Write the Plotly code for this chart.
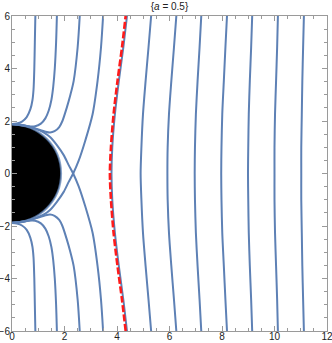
import plotly.graph_objects as go

# ---------------- data (upper half, y >= 0) ----------------
HORIZON_R = 1.87          # radius of the black half-disk
TITLE = "{<i>a</i> = 0.5}"
X_TICKS = [0, 2, 4, 6, 8, 10, 12]
Y_TICKS = [-6, -4, -2, 0, 2, 4, 6]

# curves that end on the pole of the disk
a_x = [0.89, 0.87, 0.85, 0.82, 0.78, 0.70, 0.56, 0.38, 0.18, 0.0]
a_y = [6.0, 5.0, 4.0, 3.2, 2.8, 2.45, 2.15, 1.98, 1.905, 1.885]
b_x = [1.71, 1.68, 1.63, 1.57, 1.50, 1.40, 1.27, 1.10, 0.88, 0.60, 0.30, 0.0]
b_y = [6.0, 5.0, 4.0, 3.3, 2.8, 2.4, 2.1, 1.9, 1.80, 1.80, 1.85, 1.885]
c_x = [2.58, 2.50, 2.35, 2.22, 2.09, 1.92, 1.80, 1.62, 1.45, 1.25, 1.0, 0.7, 0.4, 0.0]
c_y = [6.0, 4.8, 3.53, 2.98, 2.52, 2.0, 1.77, 1.61, 1.56, 1.60, 1.68, 1.77, 1.85, 1.885]

# separatrix: outer branch (to the top) and inner branch (hugging the disk)
d_x = [2.33, 2.54, 2.79, 3.07, 3.26, 3.39, 3.47]
d_y = [0.0, 0.49, 1.25, 2.26, 3.53, 4.8, 6.0]
inner_x = [2.33, 2.16, 1.97, 1.71, 1.46, 1.20, 0.90, 0.50, 0.0]
inner_y = [0.0, 0.32, 0.70, 1.08, 1.38, 1.57, 1.70, 1.82, 1.88]

# curves crossing the whole height, sampled at these heights
open_y = [0.0, 1.0, 2.26, 3.53, 4.8, 6.0]
blue_sep_x = [3.79, 3.82, 3.92, 4.07, 4.24, 4.38]
red_x = [3.73, 3.77, 3.87, 4.02, 4.19, 4.33]
e_x = [4.90, 4.93, 4.99, 5.09, 5.20, 5.30]
f_x = [5.92, 5.93, 5.98, 6.07, 6.17, 6.26]
g_x = [6.96, 6.97, 7.005, 7.07, 7.145, 7.21]
h_x = [7.97, 7.98, 8.01, 8.07, 8.13, 8.19]
i_x = [8.99, 9.00, 9.02, 9.06, 9.11, 9.15]
j_x = [10.0, 10.0, 10.02, 10.06, 10.10, 10.13]
k_x = [11.02, 11.02, 11.04, 11.06, 11.09, 11.12]

BLUE = "#5E81B5"
RED = "#FF1A1A"

fig = go.Figure()


def add(xs, ys, color=BLUE, width=2.0, dash=None):
    fig.add_trace(go.Scatter(
        x=xs, y=ys, mode="lines",
        line=dict(color=color, width=width, shape="spline", smoothing=0.8, dash=dash),
        hoverinfo="skip", showlegend=False))


def mirror(ys):
    return [-v for v in ys]


# pole-ending curves, upper and lower halves
for xs, ys in [(a_x, a_y), (b_x, b_y), (c_x, c_y)]:
    add(xs, ys)
    add(xs, mirror(ys))

# separatrix: two smooth curves crossing at the X point
add(list(reversed(inner_x)) + d_x[1:], mirror(list(reversed(inner_y))) + d_y[1:])
add(list(reversed(inner_x)) + d_x[1:], list(reversed(inner_y)) + mirror(d_y[1:]))

# full-height curves
for xs in [blue_sep_x, e_x, f_x, g_x, h_x, i_x, j_x, k_x]:
    add(list(reversed(xs)) + xs[1:], mirror(list(reversed(open_y))) + open_y[1:])

# red dashed curve on top
add(list(reversed(red_x)) + red_x[1:], mirror(list(reversed(open_y))) + open_y[1:],
    color=RED, width=2.6, dash="7px,2.5px")

# black half-disk
fig.add_shape(type="circle", xref="x", yref="y",
              x0=-HORIZON_R, x1=HORIZON_R, y0=-HORIZON_R, y1=HORIZON_R,
              fillcolor="black", line=dict(color="rgba(94,129,181,0.75)", width=2),
              layer="below")

FRAME = "#9a9a9a"
axis_common = dict(
    automargin=False,
    showgrid=False, zeroline=False, showline=True, linecolor=FRAME, linewidth=1,
    mirror="allticks", ticks="inside", ticklen=5, tickwidth=1, tickcolor=FRAME,
    tickfont=dict(family="Liberation Sans, Arial, sans-serif", size=10, color="#222"),
    minor=dict(dtick=0.5, ticks="inside", ticklen=3, tickcolor=FRAME, showgrid=False),
    ticklabeloverflow="allow",
)

fig.update_xaxes(range=[0, 12], tickvals=X_TICKS, ticktext=[str(v) for v in X_TICKS],
                 ticklabelstandoff=-4, **axis_common)
fig.update_yaxes(range=[-6, 6], tickvals=Y_TICKS,
                 ticktext=[str(v).replace("-", "\u2212") for v in Y_TICKS],
                 ticklabelstandoff=-1, **axis_common)

fig.update_layout(
    width=332, height=343,
    margin=dict(l=12, r=5, t=16, b=12),
    paper_bgcolor="white", plot_bgcolor="white",
    title=dict(text=TITLE, x=0.5, xref="paper", y=1 - 6.5 / 343, yref="container",
               xanchor="center", yanchor="middle",
               font=dict(family="Liberation Sans, Arial, sans-serif", size=10, color="#222")),
    hovermode=False,
)

fig.write_html(
    "out.html",
    config={"displayModeBar": False},
    post_script="document.body.style.margin='0';document.body.style.overflow='hidden';",
)
